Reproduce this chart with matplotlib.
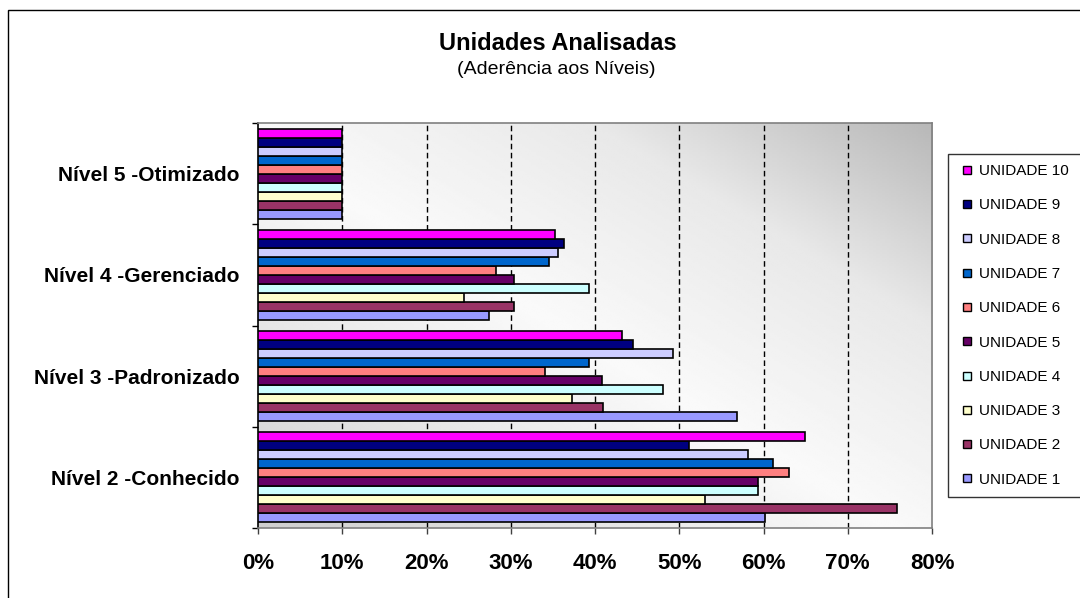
import numpy as np
import matplotlib
matplotlib.use("Agg")
import matplotlib.pyplot as plt
from matplotlib.lines import Line2D

plt.rcParams['font.family'] = ['Liberation Sans', 'DejaVu Sans']

# niveis (de baixo para cima)
niveis = ['Nível 2 -Conhecido', 'Nível 3 -Padronizado', 'Nível 4 -Gerenciado', 'Nível 5 -Otimizado']
unidades = ['UNIDADE %d' % i for i in range(1, 11)]

# aderencia (%) por unidade, na ordem dos niveis acima
u1 = [60.2, 56.9, 27.4, 10]
u2 = [75.9, 41.0, 30.4, 10]
u3 = [53.0, 37.3, 24.4, 10]
u4 = [59.3, 48.1, 39.3, 10]
u5 = [59.3, 40.8, 30.4, 10]
u6 = [63.0, 34.1, 28.2, 10]
u7 = [61.1, 39.3, 34.5, 10]
u8 = [58.2, 49.2, 35.6, 10]
u9 = [51.2, 44.5, 36.3, 10]
u10 = [64.9, 43.2, 35.2, 10]
valores = [u1, u2, u3, u4, u5, u6, u7, u8, u9, u10]

cores = ['#9999FF', '#993366', '#FFFFCC', '#CCFFFF', '#660066',
         '#FF8080', '#0066CC', '#CCCCFF', '#000080', '#FF00FF']

fig = plt.figure(figsize=(10.8, 5.98), dpi=100)
ax = fig.add_axes([258 / 1080, 1 - 528 / 598, (932 - 258) / 1080, (528 - 123) / 598])

# fundo com degrade diagonal
yy, xx = np.mgrid[0:1:200j, 0:1:300j]
d = (xx + yy) / 2
fundo = np.interp(d, [0, 0.47, 0.75, 1], [0.81, 0.98, 0.91, 0.72])
ax.imshow(fundo, extent=(0, 1, 0, 1), transform=ax.transAxes, origin='lower',
          cmap='gray', vmin=0, vmax=1, aspect='auto', zorder=0, interpolation='bilinear')

y = np.arange(len(niveis))
h = 0.089
for i, (vals, c) in enumerate(zip(valores, cores)):
    ax.barh(y + (i - 4.5) * h, np.array(vals) / 100, height=h, color=c,
            edgecolor='black', linewidth=1.2, zorder=3)

ax.set_xlim(0, 0.8)
ax.set_ylim(-0.5, len(niveis) - 0.5)

xt = np.arange(0, 0.81, 0.1)
ax.vlines(xt[1:-1], -0.5, len(niveis) - 0.5, colors='black', linewidth=1,
          linestyles=(0, (4, 2.5)), zorder=2)

ax.set_xticks(xt)
ax.set_xticklabels(['%d%%' % round(v * 100) for v in xt], fontsize=16, fontweight='bold')
ax.tick_params(axis='x', direction='out', length=4, width=1, colors='#404040',
               labelcolor='black', pad=14)

ax.set_yticks(y)
ax.set_yticklabels(niveis, fontsize=15, fontweight='bold')
ax.set_yticks(np.arange(-0.5, len(niveis)), minor=True)
ax.tick_params(axis='y', which='major', length=0, pad=13)
ax.tick_params(axis='y', which='minor', direction='out', length=4.5, width=1, color='black')

for s in ['top', 'right', 'bottom']:
    ax.spines[s].set_color('#808080')
    ax.spines[s].set_linewidth(1.2)
ax.spines['left'].set_color('black')
ax.spines['left'].set_linewidth(1.2)

fig.text(558 / 1080, 1 - 44 / 598, 'Unidades Analisadas', ha='center', va='center',
         fontsize=17, fontweight='bold')
fig.text(556 / 1080, 1 - 69 / 598, '(Aderência aos Níveis)', ha='center', va='center',
         fontsize=14)

# legenda (unidade 10 no topo)
handles = [Line2D([], [], marker='s', linestyle='', markersize=5.5, markerfacecolor=c,
                  markeredgecolor='black', markeredgewidth=1) for c in cores]
leg = fig.legend(handles[::-1], unidades[::-1], loc='upper left',
                 bbox_to_anchor=(948 / 1080, 1 - 501 / 598, 0.3, (501 - 154) / 598),
                 mode='expand', fontsize=11, frameon=True, fancybox=False,
                 edgecolor='black', labelspacing=1.33, borderpad=0.65,
                 handlelength=1.2, handletextpad=0.15, borderaxespad=0)
leg.get_frame().set_linewidth(1)

# moldura externa
fig.patches.append(plt.Rectangle((8 / 1080, -0.1), 1.2, 1.1 - 10 / 598, fill=False,
                                 edgecolor='black', linewidth=1, transform=fig.transFigure))

fig.savefig('out.png', dpi=100)
